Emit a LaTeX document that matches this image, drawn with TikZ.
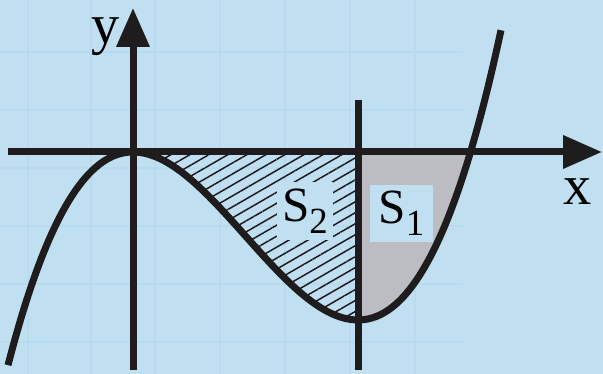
\documentclass[tikz,border=0pt]{standalone}
\usepackage{fontspec}
\setmainfont{Liberation Serif}
\newfontfamily\arfont{Liberation Serif}
\usetikzlibrary{arrows.meta,patterns.meta}
\definecolor{arbg}{RGB}{192,224,242}
\definecolor{argrid}{RGB}{184,218,238}
\definecolor{arink}{RGB}{30,28,28}
\definecolor{argray}{RGB}{188,189,194}
\tikzset{
  argridline/.style={draw=argrid, line width=.03cm},
  araxis/.style={draw=arink, line width=.14cm, -{Triangle[length=.78cm,width=.64cm]}},
  arline/.style={draw=arink, line width=.14cm},
  arcurve/.style={draw=arink, line width=.14cm, smooth, samples=120},
  arhatch/.style={pattern={Lines[angle=30,distance=.19cm,line width=.03cm]}, pattern color=arink},
  araxlabel/.style={font=\arfont\fontsize{32}{32}\selectfont, inner sep=0pt},
  arslabel/.style={font=\arfont\fontsize{28}{28}\selectfont, fill=arbg, inner sep=0pt, align=center}
}
\newcommand{\arS}[1]{S\raisebox{-.24em}{\fontsize{21}{21}\selectfont #1}}

\begin{document}
\begin{tikzpicture}[declare function={fcub(\t)=0.84*(\t/2.25)^2*(\t/2.25-3);}]
  \useasboundingbox (-2.66,-4.44) rectangle (9.40,3.04);
  \fill[arbg] (-2.66,-4.44) rectangle (9.40,3.04);
  % faint grid
  \foreach \gx in {-2.10,-0.84,0.44,1.74,3.04,4.34,5.64}
    \draw[argridline] (\gx,-4.44) -- (\gx,3.04);
  \foreach \gy in {2.00,0.84,-0.32,-1.48,-2.64,-3.80}
    \draw[argridline] (-2.66,\gy) -- (6.60,\gy);
  \coordinate (O) at (0,0);
  \coordinate (xs) at (-2.50,0);
  \coordinate (xe) at (9.38,0);
  \coordinate (ys) at (0,-4.36);
  \coordinate (ye) at (0,2.88);
  \coordinate (vt) at (4.5,1.04);
  \coordinate (vb) at (4.5,-4.36);
  \coordinate (vx) at (4.5,0);
  % areas
  \fill[arhatch] plot[domain=0:4.5, smooth, samples=80] (\x,{fcub(\x)}) -- (vx) -- cycle;
  \fill[argray] (vx) -- plot[domain=4.5:6.75, smooth, samples=60] (\x,{fcub(\x)}) -- cycle;
  \node[arslabel, minimum width=1.12cm, minimum height=1.16cm] (s2) at (3.44,-1.18) {\arS{2}};
  \node[arslabel, minimum width=1.26cm, minimum height=1.14cm] (s1) at (5.37,-1.23) {\arS{1}};
  % axes and lines
  \draw[araxis] (xs) -- (xe);
  \draw[araxis] (ys) -- (ye);
  \draw[arline] (vt) -- (vb);
  \draw[arcurve] plot[domain=-2.50:7.36] (\x,{fcub(\x)});
  \node[araxlabel] (ylab) at (-0.54,2.30) {y};
  \node[araxlabel] (xlab) at (8.90,-0.80) {x};
\end{tikzpicture}
\end{document}
